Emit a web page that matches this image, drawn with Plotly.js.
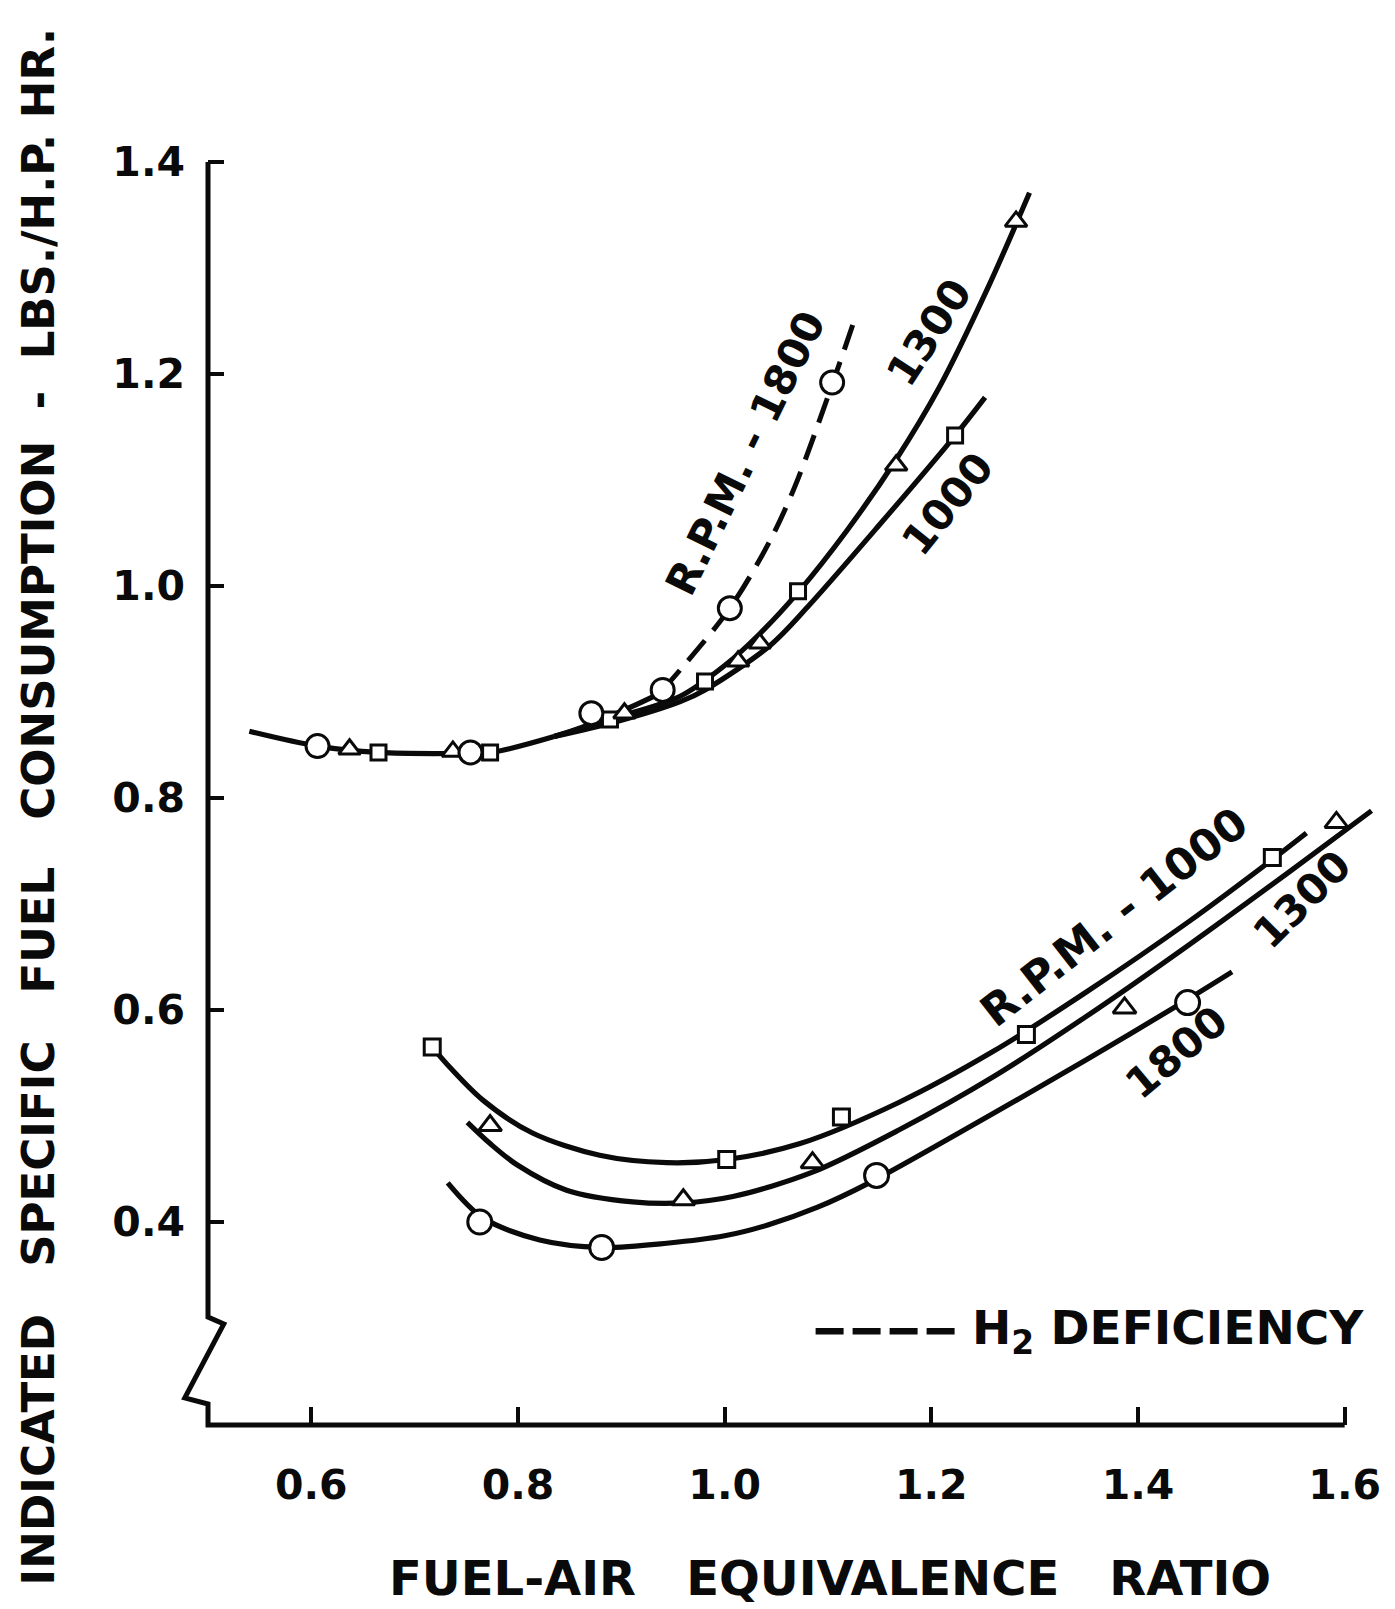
<!DOCTYPE html>
<html>
<head>
<meta charset="utf-8">
<script src="https://cdn.plot.ly/plotly-3.0.1.min.js"></script>
<style>html,body{margin:0;padding:0;background:#fff;}#chart{width:1395px;height:1609px;}</style>
</head>
<body>
<div id="chart"></div>
<script>
// ---------- Tick labels ----------
const xTickVals = [0.6, 0.8, 1.0, 1.2, 1.4, 1.6];
const xTickText = ['0.6', '0.8', '1.0', '1.2', '1.4', '1.6'];
const yTickVals = [0.4, 0.6, 0.8, 1.0, 1.2, 1.4];
const yTickText = ['0.4', '0.6', '0.8', '1.0', '1.2', '1.4'];

// ---------- Upper family: faired curves ----------
const upperCommonX = [0.540, 0.606, 0.665, 0.736, 0.774, 0.835];
const upperCommonY = [0.863, 0.849, 0.843, 0.842, 0.843, 0.858];

const upper1000CurveX = [0.835, 0.895, 0.957, 0.981, 1.044, 1.080, 1.150, 1.223, 1.252];
const upper1000CurveY = [0.858, 0.872, 0.891, 0.902, 0.944, 0.980, 1.058, 1.142, 1.178];

const upper1300CurveX = [0.835, 0.895, 0.957, 1.000, 1.034, 1.071, 1.118, 1.165, 1.208, 1.255, 1.295];
const upper1300CurveY = [0.858, 0.876, 0.896, 0.925, 0.955, 0.994, 1.052, 1.118, 1.188, 1.282, 1.371];

const upper1800SolidX = [0.835, 0.871, 0.905, 0.940];
const upper1800SolidY = [0.858, 0.870, 0.884, 0.900];
const upper1800DashX = [0.940, 0.957, 1.005, 1.044, 1.068, 1.104, 1.128];
const upper1800DashY = [0.902, 0.921, 0.979, 1.043, 1.094, 1.190, 1.258];

// ---------- Upper family: test points ----------
const upper1000PtsX = [0.665, 0.773, 0.889, 0.981, 1.071, 1.223];
const upper1000PtsY = [0.843, 0.843, 0.874, 0.910, 0.995, 1.142];
const upper1300PtsX = [0.637, 0.737, 0.903, 1.013, 1.034, 1.166, 1.282];
const upper1300PtsY = [0.846, 0.844, 0.880, 0.929, 0.946, 1.114, 1.344];
const upper1800PtsX = [0.606, 0.754, 0.871, 0.940, 1.005, 1.104];
const upper1800PtsY = [0.849, 0.843, 0.880, 0.902, 0.979, 1.192];

// ---------- Lower family: faired curves ----------
const lower1000CurveX = [0.717, 0.734, 0.766, 0.814, 0.879, 0.944, 1.002, 1.073, 1.169, 1.260, 1.350, 1.450, 1.530, 1.563];
const lower1000CurveY = [0.565, 0.546, 0.515, 0.484, 0.463, 0.456, 0.459, 0.474, 0.513, 0.561, 0.617, 0.684, 0.742, 0.767];

const lower1300CurveX = [0.751, 0.773, 0.799, 0.847, 0.911, 0.960, 1.008, 1.085, 1.169, 1.260, 1.350, 1.450, 1.550, 1.626];
const lower1300CurveY = [0.494, 0.474, 0.454, 0.430, 0.419, 0.418, 0.424, 0.447, 0.487, 0.537, 0.594, 0.662, 0.733, 0.788];

const lower1800CurveX = [0.732, 0.766, 0.821, 0.881, 0.944, 1.000, 1.041, 1.090, 1.138, 1.250, 1.350, 1.448, 1.491];
const lower1800CurveY = [0.437, 0.404, 0.383, 0.376, 0.380, 0.387, 0.397, 0.414, 0.436, 0.497, 0.553, 0.610, 0.636];

// ---------- Lower family: test points ----------
const lower1000PtsX = [0.717, 1.002, 1.113, 1.292, 1.530];
const lower1000PtsY = [0.565, 0.459, 0.499, 0.577, 0.744];
const lower1300PtsX = [0.773, 0.960, 1.085, 1.387, 1.592];
const lower1300PtsY = [0.491, 0.421, 0.456, 0.602, 0.777];
const lower1800PtsX = [0.763, 0.881, 1.147, 1.448];
const lower1800PtsY = [0.400, 0.376, 0.444, 0.607];

const INK = '#0a0a0a';
const FONT = 'DejaVu Sans, Liberation Sans, sans-serif';

function curve(x, y, dash, w) {
  return {x: x, y: y, type: 'scatter', mode: 'lines', hoverinfo: 'skip',
    line: {color: INK, width: w || 5.2, shape: 'spline', smoothing: 0.9, dash: dash || 'solid'}};
}
function pts(x, y, symbol, size) {
  return {x: x, y: y, type: 'scatter', mode: 'markers', hoverinfo: 'skip', cliponaxis: false,
    marker: {symbol: symbol, size: size, color: '#ffffff', line: {color: INK, width: 3}}};
}

const traces = [
  curve(upperCommonX, upperCommonY),
  curve(upper1000CurveX, upper1000CurveY),
  curve(upper1300CurveX, upper1300CurveY),
  curve(upper1800SolidX, upper1800SolidY),
  curve(upper1800DashX, upper1800DashY, '26px,13px', 5),
  curve(lower1000CurveX, lower1000CurveY),
  curve(lower1300CurveX, lower1300CurveY),
  curve(lower1800CurveX, lower1800CurveY),
  pts(upper1000PtsX, upper1000PtsY, 'square', 15),
  pts(upper1300PtsX, upper1300PtsY, 'triangle-up', 19),
  pts(upper1800PtsX, upper1800PtsY, 'circle', 23),
  pts(lower1000PtsX, lower1000PtsY, 'square', 16),
  pts(lower1300PtsX, lower1300PtsY, 'triangle-up', 20),
  pts(lower1800PtsX, lower1800PtsY, 'circle', 24)
];

const NB = '\u00a0';
const yTitle = 'INDICATED' + NB + NB + ' SPECIFIC' + NB + NB + ' FUEL' + NB + NB + ' CONSUMPTION' + NB + ' -' + NB + ' LBS./H.P.' + NB + 'HR.';
const xTitle = 'FUEL-AIR' + NB + NB + ' EQUIVALENCE' + NB + NB + ' RATIO';

function lab(text, x, y, angle, size) {
  return {text: text, x: x, y: y, xref: 'x', yref: 'y', showarrow: false, textangle: angle,
    xanchor: 'center', yanchor: 'middle', font: {family: FONT, size: size || 42, color: INK, weight: 'bold'}};
}

const layout = {
  width: 1395, height: 1609,
  margin: {l: 208, r: 9, t: 161, b: 184, pad: 0},
  paper_bgcolor: '#ffffff', plot_bgcolor: '#ffffff',
  showlegend: false,
  xaxis: {range: [0.5, 1.64], tickvals: xTickVals, ticktext: xTickText,
    ticks: 'inside', ticklen: 18, tickwidth: 4, tickcolor: INK,
    showline: false, showgrid: false, zeroline: false, ticklabelstandoff: 32,
    tickfont: {family: FONT, size: 41, color: INK, weight: 'bold'}},
  yaxis: {range: [0.2085, 1.401], tickvals: yTickVals, ticktext: yTickText,
    ticks: 'inside', ticklen: 16, tickwidth: 4, tickcolor: INK,
    showline: false, showgrid: false, zeroline: false, ticklabelstandoff: 22,
    tickfont: {family: FONT, size: 41, color: INK, weight: 'bold'}},
  shapes: [
    {type: 'path', xref: 'paper', yref: 'paper', layer: 'above',
     path: 'M 0 0.9992 L 0 0.0854 L 0.0134 0.0799 L -0.0197 0.0214 L 0 0.0166 L 0 0 L 0.9649 0',
     line: {color: INK, width: 5}, fillcolor: 'rgba(0,0,0,0)'},
    {type: 'line', xref: 'x', yref: 'y', x0: 1.088, x1: 1.224, y0: 0.297, y1: 0.297,
     line: {color: INK, width: 6.5, dash: '28px,9px'}}
  ],
  annotations: [
    {text: yTitle, xref: 'paper', yref: 'y', x: -0.1435, y: 0.792, textangle: -90, showarrow: false,
     xanchor: 'center', yanchor: 'middle', font: {family: FONT, size: 45, color: INK, weight: 'bold'}},
    {text: xTitle, xref: 'paper', yref: 'paper', x: 0.528, y: -0.121, showarrow: false,
     xanchor: 'center', yanchor: 'middle', font: {family: FONT, size: 48, color: INK, weight: 'bold'}},
    {text: 'H<sub>2</sub> DEFICIENCY', xref: 'x', yref: 'y', x: 1.237, y: 0.297, showarrow: false,
     xanchor: 'left', yanchor: 'middle', font: {family: FONT, size: 47, color: INK, weight: 'bold'}},
    lab('R.P.M. - 1800', 1.020, 1.125, -64, 42),
    lab('1300', 1.198, 1.239, -57, 42),
    lab('1000', 1.216, 1.078, -51, 42),
    lab('R.P.M. - 1000', 1.377, 0.688, -38, 44),
    lab('1300', 1.559, 0.704, -45, 42),
    lab('1800', 1.437, 0.560, -40, 42)
  ]
};

Plotly.newPlot('chart', traces, layout, {staticPlot: true, displayModeBar: false});
</script>
</body>
</html>
